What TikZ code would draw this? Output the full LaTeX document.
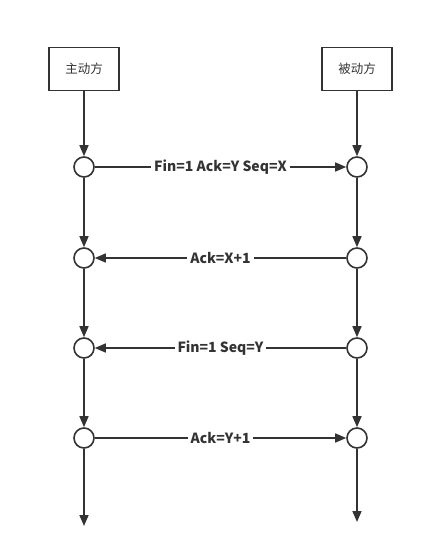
\documentclass[tikz,border=0pt]{standalone}
\usepackage{fontspec}
\setmainfont{Noto Sans CJK SC}
\usepackage{xcolor}
\usetikzlibrary{arrows.meta}
\definecolor{ink}{HTML}{333333}

\begin{document}
\begin{tikzpicture}[x=1pt, y=-1pt,
        party/.style={draw=ink, line width=1.6pt, minimum width=70pt, minimum height=43pt,
            text=ink, font=\fontsize{12.5}{14}\selectfont},
        dot/.style={circle, draw=ink, line width=1.6pt, fill=white, minimum size=20pt, inner sep=0pt},
        flow/.style={draw=ink, line width=1.6pt, -{Triangle[length=11pt, width=9pt]}},
        msg/.style={fill=white, text=ink, inner sep=3pt, font=\bfseries\fontsize{14}{16}\selectfont}]
        \useasboundingbox (0, 0) rectangle (425, 555);

        % Two parties
        \node[party] (active) at (84, 69) {主动方};
        \node[party] (passive) at (357, 69) {被动方};

        % Circles on both lifelines
        \foreach \i/\y in {1/167, 2/258, 3/348, 4/438} {
                \node[dot] (l\i) at (84, \y) {};
                \node[dot] (r\i) at (357, \y) {};
            }
        \coordinate (lend) at (84, 526);
        \coordinate (rend) at (357, 522);

        % Lifelines
        \draw[flow] (active) -- (l1);
        \draw[flow] (l1) -- (l2);
        \draw[flow] (l2) -- (l3);
        \draw[flow] (l3) -- (l4);
        \draw[flow] (l4) -- (lend);
        \draw[flow] (passive) -- (r1);
        \draw[flow] (r1) -- (r2);
        \draw[flow] (r2) -- (r3);
        \draw[flow] (r3) -- (r4);
        \draw[flow] (r4) -- (rend);

        % Messages
        \draw[flow] (l1) -- node[msg] {Fin=1 Ack=Y Seq=X} (r1);
        \draw[flow] (r2) -- node[msg] {Ack=X+1} (l2);
        \draw[flow] (r3) -- node[msg] {Fin=1 Seq=Y} (l3);
        \draw[flow] (l4) -- node[msg] {Ack=Y+1} (r4);
    \end{tikzpicture}
\end{document}
